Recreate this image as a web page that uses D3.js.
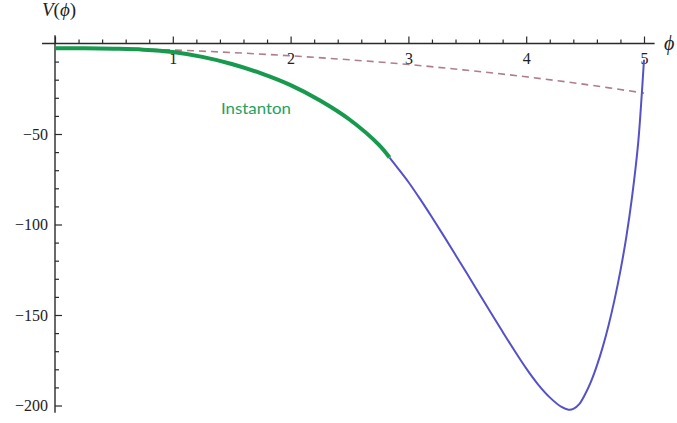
<!DOCTYPE html>
<html><head><meta charset="utf-8">
<script src="https://cdn.jsdelivr.net/npm/d3@7"></script>
<style>body{margin:0;background:#fff}svg{display:block}</style>
</head><body>
<svg id="c" width="677" height="423"></svg>
<script>
// Instanton (green) portion of V(phi)
const phiInst = [0, 0.25, 0.5, 0.75, 1.0, 1.25, 1.5, 1.75, 2.0, 2.25, 2.5, 2.75, 2.84];
const vInst   = [-2.6, -2.65, -2.9, -3.4, -4.7, -7.4, -11.3, -16.5, -23, -31.5, -42, -56, -63];
// Remaining (blue) portion of V(phi)
const phiRest = [2.84, 2.9, 3.0, 3.1, 3.2, 3.3, 3.4, 3.5, 3.6, 3.7, 3.8, 3.9, 4.0, 4.1, 4.2, 4.3, 4.36,
                 4.4, 4.45, 4.5, 4.55, 4.6, 4.65, 4.7, 4.75, 4.8, 4.85, 4.9, 4.95, 4.975, 5.0];
const vRest   = [-63, -68, -76.5, -86, -96, -106.3, -116.8, -127.4, -138.1, -148.8, -159.3, -169.6, -179.5, -188.3, -195.5, -200.8, -202.3,
                 -201.9, -199.2, -193.8, -186.8, -178, -167.6, -155.5, -141.5, -125.5, -106.8, -84, -55.3, -34, -9];
// Dashed comparison curve
const phiDash = [0, 0.5, 1, 1.5, 2, 2.5, 3, 3.5, 4, 4.5, 5];
const vDash   = [-2.6, -2.8, -3.6, -5.0, -6.8, -9.0, -11.6, -14.8, -18.4, -22.6, -27.4];
// Ticks
const xMajor = [1, 2, 3, 4, 5];
const yMajor = [-50, -100, -150, -200];

const svg = d3.select("#c");
const x = d3.scaleLinear().domain([0, 5]).range([55, 644]);
const y = d3.scaleLinear().domain([0, -200]).range([43.5, 405.5]);
const axisColor = "#2a2a2a";
const serif = "'Liberation Serif', 'DejaVu Serif', serif";

const xMinor = d3.range(0, 5.001, 0.2).filter(v => Math.abs(v - Math.round(v)) > 1e-6);
const yMinor = d3.range(0, -200.001, -10).filter(v => v !== 0 && v % 50 !== 0);

// Axis lines
svg.append("line").attr("x1", x(-0.11)).attr("x2", x(5.09)).attr("y1", y(0)).attr("y2", y(0))
  .attr("stroke", axisColor).attr("stroke-width", 1.4);
svg.append("line").attr("x1", x(0)).attr("x2", x(0)).attr("y1", y(4.5)).attr("y2", y(-204))
  .attr("stroke", axisColor).attr("stroke-width", 1.4);

// X ticks
const gx = svg.append("g").attr("transform", `translate(0,${y(0)})`);
gx.call(d3.axisBottom(x).tickValues(xMinor).tickSizeInner(-4).tickSizeOuter(0).tickFormat(""));
const gx2 = svg.append("g").attr("transform", `translate(0,${y(0)})`);
gx2.call(d3.axisBottom(x).tickValues([0].concat(xMajor)).tickSizeInner(-7).tickSizeOuter(0).tickPadding(9)
  .tickFormat(d => d === 0 ? "" : d3.format("d")(d)));
[gx, gx2].forEach(g => {
  g.select(".domain").remove();
  g.selectAll("line").attr("stroke", axisColor).attr("stroke-width", 1.2);
  g.selectAll("text").attr("font-family", serif).attr("font-size", 16).attr("fill", "#222");
});

// Y ticks
const gy = svg.append("g").attr("transform", `translate(${x(0)},0)`);
gy.call(d3.axisLeft(y).tickValues(yMinor).tickSizeInner(-4).tickSizeOuter(0).tickFormat(""));
const gy2 = svg.append("g").attr("transform", `translate(${x(0)},0)`);
gy2.call(d3.axisLeft(y).tickValues(yMajor).tickSizeInner(-7).tickSizeOuter(0).tickPadding(7));
[gy, gy2].forEach(g => {
  g.select(".domain").remove();
  g.selectAll("line").attr("stroke", axisColor).attr("stroke-width", 1.2);
  g.selectAll("text").attr("font-family", serif).attr("font-size", 16).attr("fill", "#222");
});

const line = d3.line().x(d => x(d[0])).y(d => y(d[1])).curve(d3.curveCatmullRom.alpha(0.5));

// Dashed curve
svg.append("path").datum(d3.zip(phiDash, vDash)).attr("d", line)
  .attr("fill", "none").attr("stroke", "#ad7f8c").attr("stroke-width", 1.6)
  .attr("stroke-dasharray", "7,5");

// Blue part
svg.append("path").datum(d3.zip(phiRest, vRest)).attr("d", line)
  .attr("fill", "none").attr("stroke", "#5452c6").attr("stroke-width", 2);

// Green instanton part
svg.append("path").datum(d3.zip(phiInst, vInst)).attr("d", line)
  .attr("fill", "none").attr("stroke", "#17994e").attr("stroke-width", 4).attr("stroke-linecap", "butt");

// Instanton label
svg.append("text").attr("x", 221).attr("y", 114).text("Instanton")
  .attr("font-family", "Lato, 'Open Sans', sans-serif").attr("font-size", 16)
  .attr("textLength", 70).attr("lengthAdjust", "spacingAndGlyphs")
  .attr("fill", "#22a260");

// Axis labels
const vl = svg.append("text").attr("x", 42).attr("y", 16).attr("font-family", serif).attr("font-size", 19).attr("fill", "#222");
vl.append("tspan").attr("font-style", "italic").text("V");
vl.append("tspan").text("(");
vl.append("tspan").attr("font-style", "italic").text("ϕ");
vl.append("tspan").text(")");

svg.append("text").attr("x", 664).attr("y", 50).attr("font-family", serif).attr("font-size", 20)
  .attr("font-style", "italic").attr("fill", "#222").text("ϕ");
</script>
</body></html>
